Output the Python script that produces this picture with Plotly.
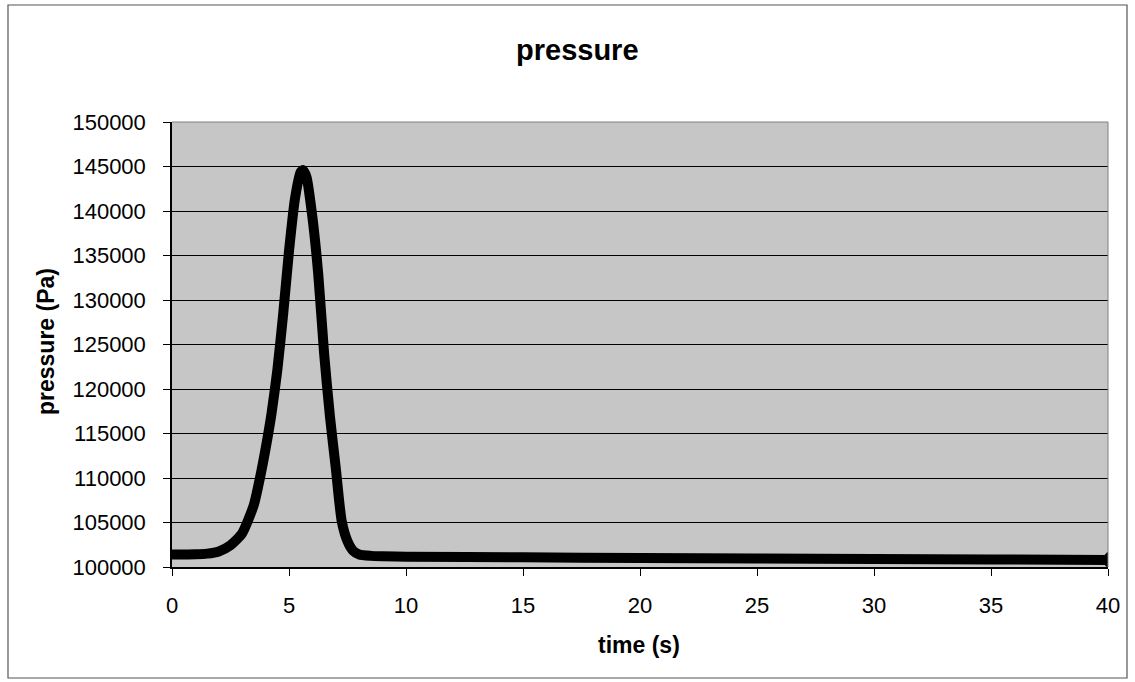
import plotly.graph_objects as go

time_s = [0, 0.5, 1, 1.5, 2, 2.5, 3, 3.5, 3.75, 4, 4.25, 4.5, 4.75, 5, 5.25, 5.5, 5.6,
          5.75, 6, 6.25, 6.5, 6.75, 7, 7.25, 7.5, 7.75, 8, 8.5, 9, 10, 15, 20, 25, 30, 35, 40]
pressure_pa = [101400, 101400, 101420, 101500, 101750, 102450, 103800, 107000, 109900,
               113300, 117200, 122100, 128400, 135500, 141300, 144400, 144600,
               143800, 139300, 132900, 124000, 116900, 111100, 105200, 102900, 101800,
               101400, 101250, 101200, 101150, 101100, 101000, 100950, 100900, 100850, 100800]

x_ticks = [0, 5, 10, 15, 20, 25, 30, 35, 40]
y_ticks = list(range(100000, 150001, 5000))

FONT = "Liberation Sans, Arial, sans-serif"

fig = go.Figure()
fig.add_trace(go.Scatter(
    x=time_s, y=pressure_pa, mode="lines",
    line=dict(color="black", width=10, shape="spline", smoothing=0.6),
    showlegend=False,
))
fig.add_trace(go.Scatter(
    x=time_s[-1:], y=pressure_pa[-1:], mode="markers",
    marker=dict(symbol="diamond", size=13, color="black"),
    showlegend=False,
))

L, R, T, B = 172, 27, 122, 115
W, H = 1135, 682
pw, ph = W - L - R, H - T - B

def px(x):
    return (x - L) / pw

def py(y):
    return (H - B - y) / ph

def label(text, x, y, size, angle=0):
    return dict(text=text, x=px(x), y=py(y), xref="paper", yref="paper",
                xanchor="center", yanchor="middle", showarrow=False,
                textangle=angle, font=dict(size=size, family=FONT, color="black"))

fig.update_layout(
    width=W, height=H,
    margin=dict(l=L, r=R, t=T, b=B),
    paper_bgcolor="white",
    plot_bgcolor="#c6c6c6",
    font=dict(family=FONT, color="black", size=22),
    showlegend=False,
    xaxis=dict(
        range=[0, 40], tickvals=x_ticks, ticktext=[str(v) for v in x_ticks],
        showgrid=False, zeroline=False,
        showline=True, linecolor="black", linewidth=1.5, mirror=False,
        ticks="outside", ticklen=7, tickcolor="black", tickwidth=1,
        ticklabelstandoff=11,
        tickfont=dict(size=22),
    ),
    yaxis=dict(
        range=[100000, 150000], tickvals=y_ticks, ticktext=[str(v) for v in y_ticks],
        showgrid=True, gridcolor="black", gridwidth=1,
        zeroline=False,
        showline=True, linecolor="black", linewidth=1.5,
        ticks="outside", ticklen=7, tickcolor="black", tickwidth=1,
        ticklabelstandoff=13,
        tickfont=dict(size=22),
    ),
    annotations=[
        label("<b>pressure</b>", 577, 50, 29),
        label("<b>time (s)</b>", 639, 645, 23),
        label("<b>pressure (Pa)</b>", 46, 342, 23, angle=-90),
    ],
    shapes=[
        dict(type="rect", xref="paper", yref="paper",
             x0=px(8), x1=px(1127), y0=py(678), y1=py(5),
             line=dict(color="#555555", width=1.2), fillcolor="rgba(0,0,0,0)", layer="below"),
        dict(type="line", xref="paper", yref="paper", x0=0, x1=1, y0=1, y1=1,
             line=dict(color="#808080", width=1)),
        dict(type="line", xref="paper", yref="paper", x0=1, x1=1, y0=0, y1=1,
             line=dict(color="#808080", width=1)),
    ],
)

fig.write_html("out.html")
